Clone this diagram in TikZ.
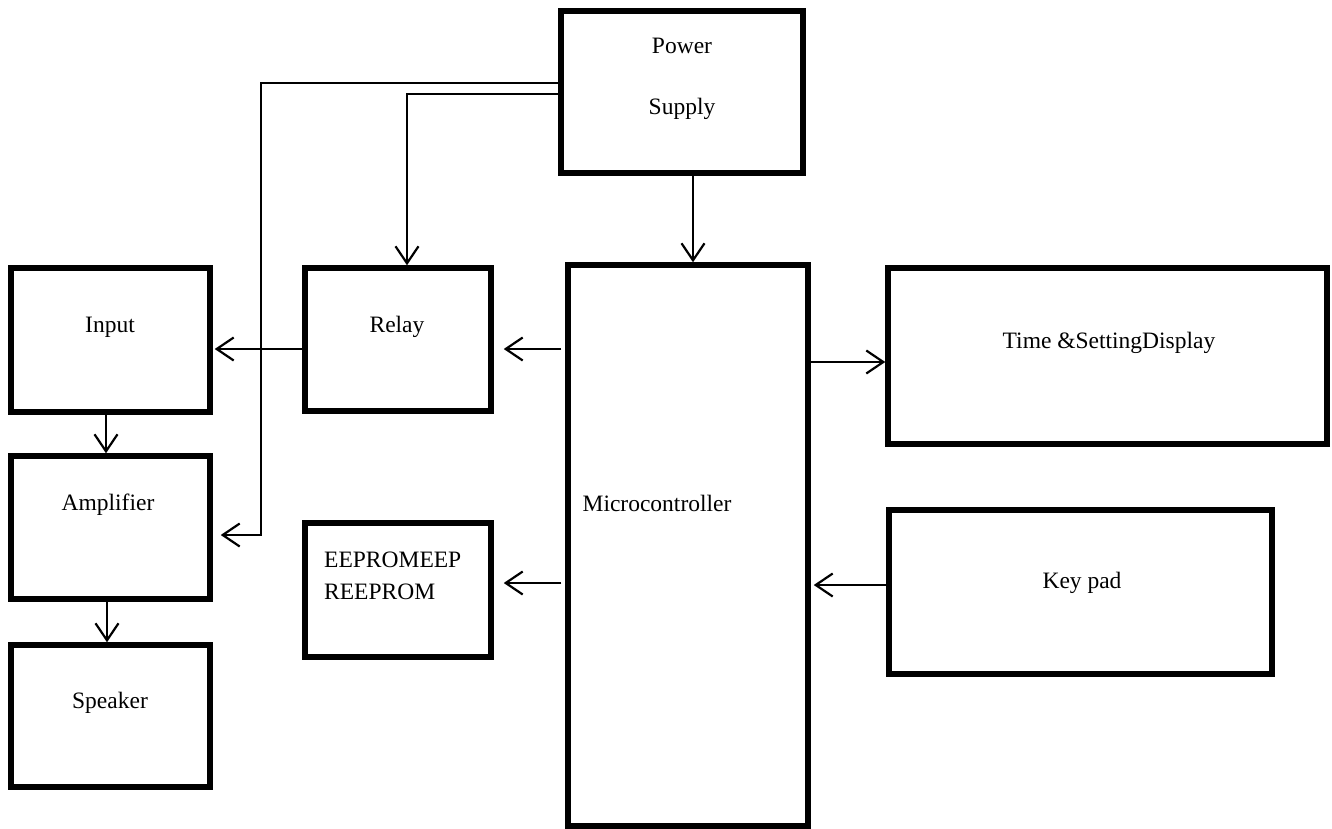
\documentclass[tikz,border=0pt]{standalone}
\usepackage{fontspec}
\setmainfont{Liberation Serif}
\usepackage{tikz}
\usetikzlibrary{arrows.meta}
\tikzstyle{blockbox} = [draw=black, line width=5.5pt, rectangle, inner sep=0pt]
\tikzstyle{blocktext} = [font=\fontsize{23.5pt}{27pt}\selectfont, inner sep=0pt]
\tikzstyle{wire} = [draw=black, line width=2pt,
    -{Straight Barb[length=17pt, width=23pt, line width=2.2pt]}]

\begin{document}
\begin{tikzpicture}[x=1pt, y=-1pt]
\useasboundingbox (0,0) rectangle (1332,829);

% blocks
\node [blockbox, minimum width=242, minimum height=162] (power) at (682,92) {};
\node [blockbox, minimum width=199, minimum height=144] (input) at (110.5,340) {};
\node [blockbox, minimum width=186, minimum height=143] (relay) at (398,339.5) {};
\node [blockbox, minimum width=240, minimum height=561] (micro) at (688,545.5) {};
\node [blockbox, minimum width=439, minimum height=176] (display) at (1107.5,356) {};
\node [blockbox, minimum width=199, minimum height=143] (amp) at (110.5,527.5) {};
\node [blockbox, minimum width=199, minimum height=142] (speaker) at (110.5,716) {};
\node [blockbox, minimum width=186, minimum height=134] (eeprom) at (398,590) {};
\node [blockbox, minimum width=383, minimum height=164] (keypad) at (1080.5,592) {};

% texts
\node [blocktext, align=center] (power-t) at (682,79) {Power\\[34pt]Supply};
\node [blocktext] (input-t) at (110,327) {Input};
\node [blocktext] (relay-t) at (397,327) {Relay};
\node [blocktext] (micro-t) at (657,503) {Microcontroller};
\node [blocktext] (display-t) at (1109,343) {Time \&SettingDisplay};
\node [blocktext] (amp-t) at (108,505) {Amplifier};
\node [blocktext] (speaker-t) at (110,703) {Speaker};
\node [blocktext, align=left, anchor=west,
    font=\fontsize{23.5pt}{32pt}\selectfont] (eeprom-t) at (324,576) {EEPROMEEP\\REEPROM};
\node [blocktext] (keypad-t) at (1082,583) {Key pad};

% supply lines
\coordinate (bus1) at (261,83);
\coordinate (bus2) at (407,94);
\draw [wire] (power.west |- bus1) -- (bus1) |- ([xshift=8pt]amp.east |- 0,535);
\draw [wire] (power.west |- bus2) -- (bus2) -- (relay.north -| bus2);
\draw [wire] (power.south -| 693,0) -- (micro.north -| 693,0);

% signal lines
\draw [wire] (relay.west |- 0,349) -- ([xshift=2pt]input.east |- 0,349);
\draw [wire] ([xshift=-4pt]micro.west |- 0,349) -- ([xshift=10pt]relay.east |- 0,349);
\draw [wire] (micro.east |- 0,362) -- (display.west |- 0,362);
\draw [wire] ([xshift=-4pt]micro.west |- 0,583) -- ([xshift=10pt]eeprom.east |- 0,583);
\draw [wire] (keypad.west |- 0,585) -- ([xshift=3pt]micro.east |- 0,585);
\draw [wire] (input.south -| 106,0) -- (amp.north -| 106,0);
\draw [wire] (amp.south -| 107,0) -- (speaker.north -| 107,0);
\end{tikzpicture}
\end{document}
